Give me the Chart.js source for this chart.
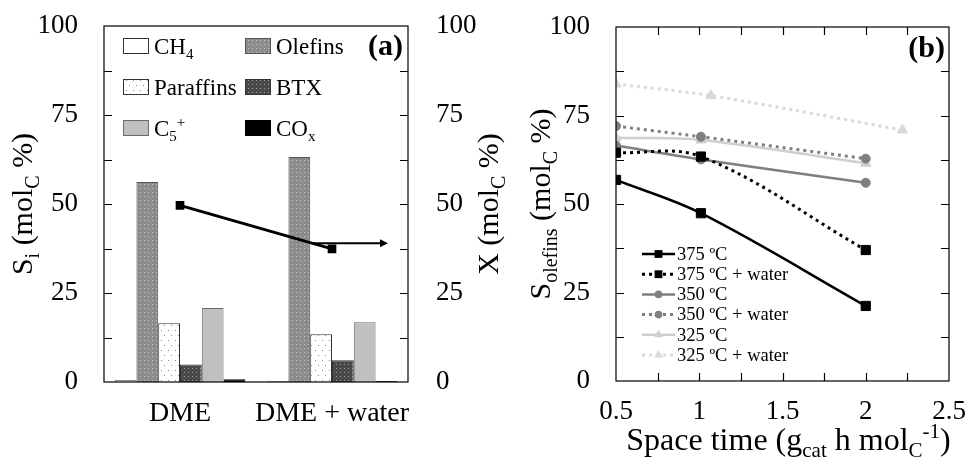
<!DOCTYPE html>
<html>
<head>
<meta charset="utf-8">
<script src="https://cdn.jsdelivr.net/npm/chart.js@4.4.1/dist/chart.umd.min.js"></script>
<style>
  body { margin: 0; background: #fff; }
  #wrap { position: relative; width: 969px; height: 461px; }
  canvas { position: absolute; top: 0; }
</style>
</head>
<body>
<div id="wrap">
  <canvas id="chartA" width="510" height="461" style="left:0"></canvas>
  <canvas id="chartB" width="459" height="461" style="left:510px"></canvas>
</div>
<script>
// panel (a): selectivity by feed
const categories = ["DME", "DME + water"];
const ch4 = [0.5, 0.2];
const olefins = [56.2, 63.2];
const paraffins = [16.5, 13.4];
const btx = [4.9, 6.1];
const c5plus = [20.8, 16.8];
const cox = [0.8, 0.3];
const conversion = [49.6, 37.4];
const arrowLevel = 39;

// panel (b): olefin selectivity vs space time
const spaceTime = [0.5, 1.01, 2.0];
const spaceTime325w = [0.5, 1.07, 2.22];
const s375 = [56.8, 47.4, 21.2];
const s375w = [64.5, 63.4, 37.0];
const s350 = [66.5, 62.6, 56.0];
const s350w = [72.0, 69.0, 62.8];
const s325 = [68.7, 68.1, 61.5];
const s325w = [83.9, 80.6, 70.9];

const yTicks = [0, 25, 50, 75, 100];
const xTicksB = [0.5, 1, 1.5, 2, 2.5];

const SERIF = '"Liberation Serif", "Times New Roman", serif';
Chart.defaults.font.family = SERIF;
Chart.defaults.color = "#000";

// small markup: _x / _{xx} subscript, ^x / ^{xx} superscript
function parseRich(s) {
  const parts = [];
  let i = 0, buf = "";
  while (i < s.length) {
    const c = s[i];
    if (c === "_" || c === "^") {
      if (buf) { parts.push([buf, "n"]); buf = ""; }
      let t;
      if (s[i + 1] === "{") { const j = s.indexOf("}", i); t = s.slice(i + 2, j); i = j + 1; }
      else { t = s[i + 1]; i += 2; }
      parts.push([t, c === "_" ? "sub" : "sup"]);
    } else { buf += c; i++; }
  }
  if (buf) parts.push([buf, "n"]);
  return parts;
}
function richFont(k, size, bold) {
  const sz = k === "n" ? size : Math.round(size * 0.65);
  return (bold ? "bold " : "") + sz + "px " + SERIF;
}
function drawRich(ctx, text, x, y, size, align, bold) {
  const parts = parseRich(text);
  let w = 0;
  parts.forEach(([t, k]) => { ctx.font = richFont(k, size, bold); w += ctx.measureText(t).width; });
  let cx = align === "center" ? x - w / 2 : align === "right" ? x - w : x;
  ctx.textAlign = "left";
  ctx.textBaseline = "alphabetic";
  ctx.fillStyle = "#000";
  parts.forEach(([t, k]) => {
    ctx.font = richFont(k, size, bold);
    const dy = k === "sub" ? size * 0.22 : k === "sup" ? -size * 0.38 : 0;
    ctx.fillText(t, cx, y + dy);
    cx += ctx.measureText(t).width;
  });
}
function drawRotated(ctx, text, bx, cy, size) {
  ctx.save();
  ctx.translate(bx, cy);
  ctx.rotate(-Math.PI / 2);
  drawRich(ctx, text, 0, 0, size, "center");
  ctx.restore();
}

function dotPattern(bg, dot, sx, sy, size, stagger) {
  const c = document.createElement("canvas");
  c.width = sx; c.height = sy * (stagger ? 2 : 1);
  const g = c.getContext("2d");
  g.fillStyle = bg; g.fillRect(0, 0, c.width, c.height);
  g.fillStyle = dot;
  g.fillRect(0, 0, size, size);
  if (stagger) g.fillRect(Math.floor(sx / 2), sy, size, size);
  return g.createPattern(c, "repeat");
}
const ctxA = document.getElementById("chartA").getContext("2d");
const patOlefins = dotPattern("#8c8c8c", "#c4c4c4", 4, 4, 1, false);
const patParaffins = dotPattern("#ffffff", "#8a8a8a", 7, 5, 1, true);
const patBtx = dotPattern("#4a4a4a", "#9a9a9a", 4, 4, 1, false);

// fixed axis sizes, no label overflow padding
function fixSize(w, h) {
  return s => {
    if (w) s.width = w;
    if (h) s.height = h;
    s.paddingTop = s.paddingBottom = s.paddingLeft = s.paddingRight = 0;
  };
}

// box + inner tick marks
function boxTicks(minorX) {
  return {
    id: "boxTicks",
    afterDraw(chart) {
      const { ctx, chartArea: a, scales } = chart;
      ctx.save();
      ctx.strokeStyle = "#000";
      ctx.lineWidth = 1.2;
      ctx.strokeRect(a.left, a.top, a.right - a.left, a.bottom - a.top);
      const y = scales.y;
      ctx.beginPath();
      for (let v = 12.5; v < 100; v += 12.5) {
        const p = Math.round(y.getPixelForValue(v)) + 0.5;
        ctx.moveTo(a.left, p); ctx.lineTo(a.left + 8, p);
        ctx.moveTo(a.right, p); ctx.lineTo(a.right - 8, p);
      }
      if (minorX) {
        const x = scales.x;
        for (let v = x.min + minorX; v < x.max - 1e-6; v += minorX) {
          const p = Math.round(x.getPixelForValue(v)) + 0.5;
          ctx.moveTo(p, a.bottom); ctx.lineTo(p, a.bottom - 8);
          ctx.moveTo(p, a.top); ctx.lineTo(p, a.top + 8);
        }
      }
      ctx.stroke();
      ctx.restore();
    }
  };
}

const legendA = {
  id: "legendA",
  afterDraw(chart) {
    const { ctx, chartArea: a } = chart;
    const bars = chart.data.datasets.filter(d => d.type !== "line");
    bars.forEach((d, i) => {
      const col = i % 2, row = Math.floor(i / 2);
      const x = a.left + 19 + col * 122;
      const yc = a.top + 20 + row * 41;
      ctx.fillStyle = d.backgroundColor;
      ctx.fillRect(x, yc - 8, 26, 16);
      ctx.strokeStyle = d.borderColor;
      ctx.lineWidth = 1;
      ctx.strokeRect(x + 0.5, yc - 7.5, 25, 15);
      drawRich(ctx, d.richLabel, x + 31, yc + 8, 23, "left");
    });
    drawRich(ctx, "(a)", a.right - 5, a.top + 29, 30, "right", true);
  }
};

const arrowA = {
  id: "arrowA",
  afterDatasetsDraw(chart) {
    const { ctx, chartArea: a, scales } = chart;
    const x0 = scales.x.getPixelForValue(0), x1 = scales.x.getPixelForValue(1);
    const t = (conversion[0] - arrowLevel) / (conversion[0] - conversion[1]);
    const xs = x0 + t * (x1 - x0);
    const xe = a.right - 20;
    const yp = scales.y2.getPixelForValue(arrowLevel);
    ctx.save();
    ctx.strokeStyle = "#000"; ctx.fillStyle = "#000"; ctx.lineWidth = 2;
    ctx.beginPath(); ctx.moveTo(xs, yp); ctx.lineTo(xe - 6, yp); ctx.stroke();
    ctx.beginPath(); ctx.moveTo(xe, yp); ctx.lineTo(xe - 8, yp - 4); ctx.lineTo(xe - 8, yp + 4); ctx.closePath(); ctx.fill();
    ctx.restore();
  }
};

const titlesA = {
  id: "titlesA",
  afterDraw(chart) {
    const { ctx, chartArea: a } = chart;
    const cy = (a.top + a.bottom) / 2;
    drawRotated(ctx, "S_i (mol_C %)", a.left - 72, cy, 30);
    drawRotated(ctx, "X (mol_C %)", a.right + 90, cy, 30);
  }
};

function barSet(label, rich, data, bg, border) {
  return { label, richLabel: rich, data, backgroundColor: bg, borderColor: border, borderWidth: 1, order: 1, yAxisID: "y" };
}

new Chart(ctxA, {
  type: "bar",
  data: {
    labels: categories,
    datasets: [
      barSet("CH4", "CH_4", ch4, "#ffffff", "#333333"),
      barSet("Olefins", "Olefins", olefins, patOlefins, "#555555"),
      barSet("Paraffins", "Paraffins", paraffins, patParaffins, "#333333"),
      barSet("BTX", "BTX", btx, patBtx, "#333333"),
      barSet("C5+", "C_5^+", c5plus, "#c0c0c0", "#6a6a6a"),
      barSet("COx", "CO_x", cox, "#000000", "#000000"),
      {
        type: "line", label: "X", data: conversion, yAxisID: "y2", order: 0,
        borderColor: "#000", borderWidth: 3, backgroundColor: "#000",
        pointStyle: "rect", pointRadius: 4, tension: 0
      }
    ]
  },
  options: {
    responsive: false,
    animation: false,
    layout: { padding: { top: 26, left: 0, right: 0, bottom: 0 } },
    datasets: { bar: { categoryPercentage: 0.86, barPercentage: 1 } },
    plugins: { legend: { display: false }, tooltip: { enabled: false } },
    scales: {
      x: {
        grid: { display: false, drawTicks: false }, border: { display: false },
        ticks: { font: { size: 28 }, padding: 15, maxRotation: 0, autoSkip: false },
        afterFit: fixSize(0, 79)
      },
      y: {
        min: 0, max: 100,
        afterBuildTicks: s => { s.ticks = yTicks.map(v => ({ value: v })); },
        grid: { display: false, drawTicks: false }, border: { display: false },
        ticks: { font: { size: 27 }, padding: 26 },
        afterFit: fixSize(104, 0)
      },
      y2: {
        position: "right", min: 0, max: 100,
        afterBuildTicks: s => { s.ticks = yTicks.map(v => ({ value: v })); },
        grid: { display: false, drawTicks: false }, border: { display: false },
        ticks: { font: { size: 27 }, padding: 28 },
        afterFit: fixSize(102, 0)
      }
    }
  },
  plugins: [boxTicks(0), legendA, arrowA, titlesA]
});

// panel (b)
function pts(xs, ys) { return ys.map((v, i) => ({ x: xs[i], y: v })); }
function lineSet(label, xs, ys, color, dotted, style, radius) {
  return {
    label, data: pts(xs, ys), borderColor: color, backgroundColor: color,
    borderWidth: dotted ? 3 : 2.5, borderDash: dotted ? [3, 4] : [],
    pointStyle: style, pointRadius: radius, pointBorderWidth: 1,
    tension: 0.35, fill: false
  };
}

function drawMarker(ctx, style, x, y, r, color) {
  ctx.fillStyle = color;
  ctx.beginPath();
  if (style === "rect") { const h = r * Math.SQRT1_2; ctx.rect(x - h, y - h, 2 * h, 2 * h); }
  else if (style === "circle") { ctx.arc(x, y, r, 0, Math.PI * 2); }
  else { ctx.moveTo(x, y - r); ctx.lineTo(x + r * 0.87, y + r * 0.5); ctx.lineTo(x - r * 0.87, y + r * 0.5); ctx.closePath(); }
  ctx.fill();
}

const legendB = {
  id: "legendB",
  afterDraw(chart) {
    const { ctx, chartArea: a } = chart;
    chart.data.datasets.forEach((d, i) => {
      const yc = a.top + 227 + i * 20.2;
      const x0 = a.left + 26, x1 = a.left + 59;
      ctx.save();
      ctx.strokeStyle = d.borderColor;
      ctx.lineWidth = d.borderWidth;
      ctx.setLineDash(d.borderDash);
      ctx.beginPath(); ctx.moveTo(x0, yc); ctx.lineTo(x1, yc); ctx.stroke();
      ctx.restore();
      drawMarker(ctx, d.pointStyle, (x0 + x1) / 2, yc, d.pointRadius * 0.85, d.backgroundColor);
      ctx.fillStyle = "#000";
      ctx.font = "18.5px " + SERIF;
      ctx.textAlign = "left"; ctx.textBaseline = "middle";
      ctx.fillText(d.label, x1 + 2, yc + 1);
    });
    drawRich(ctx, "(b)", a.right - 4, a.top + 30, 30, "right", true);
  }
};

const titlesB = {
  id: "titlesB",
  afterDraw(chart) {
    const { ctx, chartArea: a } = chart;
    drawRotated(ctx, "S_{olefins} (mol_C %)", a.left - 66, (a.top + a.bottom) / 2, 30);
    drawRich(ctx, "Space time (g_{cat} h mol_C^{-1})", (a.left + a.right) / 2 + 6, 450, 32, "center");
  }
};

new Chart(document.getElementById("chartB"), {
  type: "line",
  data: {
    datasets: [
      lineSet("375 ºC", spaceTime, s375, "#000000", false, "rect", 6.5),
      lineSet("375 ºC + water", spaceTime, s375w, "#000000", true, "rect", 6.5),
      lineSet("350 ºC", spaceTime, s350, "#7f7f7f", false, "circle", 4.5),
      lineSet("350 ºC + water", spaceTime, s350w, "#7f7f7f", true, "circle", 4.5),
      lineSet("325 ºC", spaceTime, s325, "#cfcfcf", false, "triangle", 6),
      lineSet("325 ºC + water", spaceTime325w, s325w, "#d9d9d9", true, "triangle", 6)
    ]
  },
  options: {
    responsive: false,
    animation: false,
    layout: { padding: { top: 27, left: 0, right: 20, bottom: 0 } },
    plugins: { legend: { display: false }, tooltip: { enabled: false } },
    scales: {
      x: {
        type: "linear", min: 0.5, max: 2.5,
        afterBuildTicks: s => { s.ticks = xTicksB.map(v => ({ value: v })); },
        grid: { display: false, drawTicks: false }, border: { display: false },
        ticks: { font: { size: 27 }, padding: 15, maxRotation: 0, autoSkip: false, callback: v => String(v) },
        afterFit: fixSize(0, 80)
      },
      y: {
        min: 0, max: 100,
        afterBuildTicks: s => { s.ticks = yTicks.map(v => ({ value: v })); },
        grid: { display: false, drawTicks: false }, border: { display: false },
        ticks: { font: { size: 27 }, padding: 26 },
        afterFit: fixSize(106, 0)
      }
    }
  },
  plugins: [boxTicks(0.25), legendB, titlesB]
});
</script>
</body>
</html>
